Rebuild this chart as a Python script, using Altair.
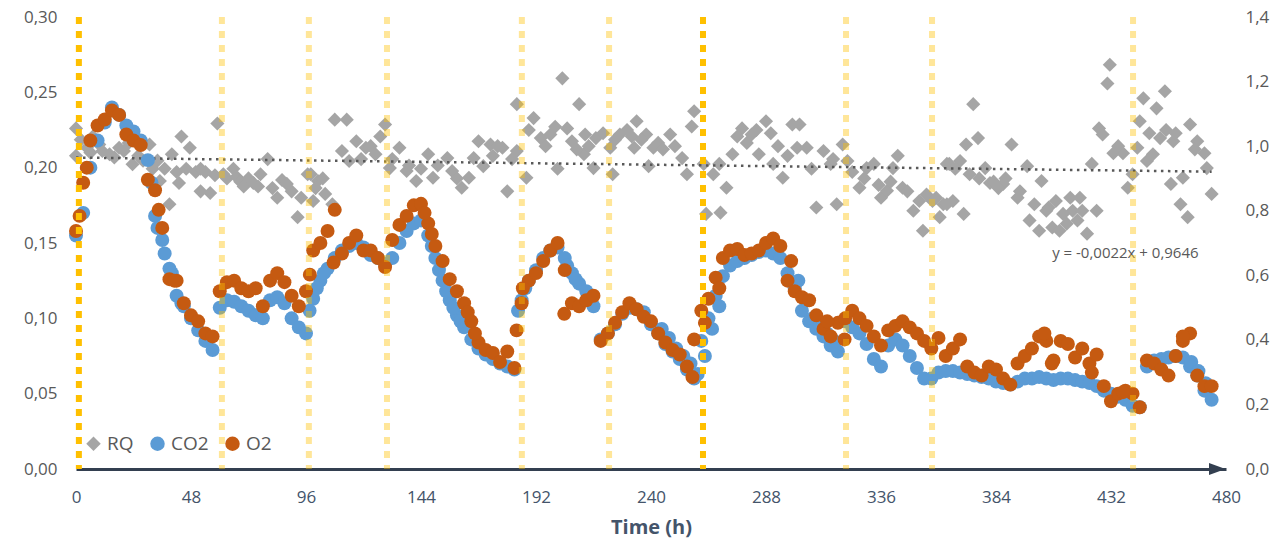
import altair as alt
import pandas as pd

# ---------------- data ----------------
sample_hours = [0,3,6,9,12,15,18,21,24,27,30,33,36,39,42,45,48,51,54,57,
                60,63,66,69,72,75,78,81,84,87,90,93,96,99,102,105,108,111,114,117,
                120,123,126,129,132,135,138,141,144,147,150,153,156,159,162,165,168,171,174,177,
                180,183,186,189,192,195,198,201,204,207,210,213,216,219,222,225,228,231,234,237,
                240,243,246,249,252,255,258,261,264,267,270,273,276,279,282,285,288,291,294,297,
                300,303,306,309,312,315,318,321,324,327,330,333,336,339,342,345,348,351,354,357,
                360,363,366,369,372,375,378,381,384,387,390,393,396,399,402,405,408,411,414,417,
                420,423,426,429,432,435,438,441,444,447,450,453,456,459,462,465,468,471,474]

co2_values = [0.155,0.17,0.2,0.218,0.23,0.24,0.235,0.228,0.224,0.218,
              0.205,0.168,0.152,0.133,0.115,0.108,0.1,0.092,0.085,0.079,
              0.107,0.112,0.111,0.108,0.105,0.102,0.1,0.112,0.114,0.11,
              0.1,0.094,0.09,0.113,0.125,0.133,0.14,0.145,0.148,0.15,
              0.147,0.142,0.14,0.136,0.14,0.15,0.158,0.163,0.165,0.155,
              0.14,0.125,0.112,0.102,0.094,0.086,0.08,0.076,0.073,0.07,
              0.068,0.066,0.112,0.125,0.132,0.14,0.145,0.147,0.14,0.13,
              0.123,0.118,0.108,0.086,0.09,0.096,0.103,0.107,0.106,0.104,
              0.096,0.09,0.083,0.078,0.073,0.066,0.06,0.085,0.1,
              0.115,0.128,0.135,0.138,0.14,0.142,0.144,0.145,0.143,0.14,
              0.13,0.12,0.105,0.098,0.093,0.088,0.082,0.078,0.098,0.094,
              0.09,0.083,0.073,0.068,0.082,0.086,0.082,0.075,0.067,0.06,
              0.06,0.064,0.065,0.065,0.064,0.063,0.062,0.061,0.06,0.058,
              0.057,0.056,0.058,0.06,0.06,0.061,0.06,0.059,0.06,0.06,
              0.059,0.058,0.057,0.055,0.052,0.05,0.048,0.046,0.042,0.041,
              0.068,0.072,0.073,0.074,0.075,0.074,0.068,0.062,0.052,0.046]

co2_extra_hours = [31.5, 34, 37, 40, 44, 97.5, 100.5, 103.5, 148.5, 151.5, 154.5, 157.5, 160.5,
                   184.5, 187.5, 205, 208.5, 244.5, 247.5, 250.5, 253.5, 256.5, 259.5,
                   262.5, 265.5, 268.5, 301.5, 304.5, 307.5, 310.5, 313.5, 316.5,
                   465.5, 468.5, 471.5]
co2_extra_values = [0.19, 0.16, 0.143, 0.13, 0.11, 0.105, 0.12, 0.13, 0.148, 0.132, 0.118, 0.107, 0.098,
                    0.105, 0.12, 0.135, 0.126, 0.093, 0.087, 0.08, 0.075, 0.07, 0.063,
                    0.075, 0.093, 0.108, 0.125, 0.112, 0.1, 0.095, 0.09, 0.085,
                    0.071, 0.065, 0.057]

o2_values = [0.158,0.19,0.218,0.228,0.232,0.238,0.235,0.222,0.218,0.215,
             0.192,0.185,0.16,0.126,0.125,0.11,0.102,0.098,0.09,0.088,
             0.118,0.124,0.125,0.12,0.118,0.12,0.108,0.125,0.13,0.124,
             0.115,0.108,0.118,0.145,0.15,0.158,0.172,0.143,0.15,0.155,
             0.145,0.145,0.14,0.134,0.152,0.162,0.168,0.175,0.176,0.163,
             0.148,0.138,0.126,0.118,0.11,0.098,0.084,0.079,0.077,0.071,
             0.078,0.067,0.11,0.125,0.13,0.138,0.145,0.15,0.132,0.11,
             0.108,0.112,0.115,0.085,0.09,0.097,0.104,0.11,0.106,0.101,
             0.098,0.09,0.084,0.079,0.076,0.068,0.086,0.105,0.113,
             0.127,0.14,0.145,0.146,0.142,0.143,0.145,0.15,0.153,0.148,
             0.125,0.118,0.114,0.112,0.102,0.093,0.088,0.097,0.1,0.105,
             0.1,0.095,0.088,0.082,0.092,0.095,0.098,0.094,0.09,0.085,
             0.08,0.087,0.075,0.08,0.086,0.068,0.064,0.062,0.068,0.066,
             0.06,0.056,0.07,0.075,0.08,0.088,0.085,0.072,0.085,0.083,
             0.074,0.08,0.07,0.076,0.055,0.045,0.05,0.052,0.05,0.041,
             0.072,0.07,0.066,0.062,0.075,0.085,0.09,0.062,0.055,0.055]

o2_extra_hours = [1.5, 4.5, 34.5, 41, 97.6, 107.5, 145.5, 148.5, 163.5, 166.5, 183.9, 186.5, 203.8,
                  257.3, 262.5, 268.5, 298.5, 313.5, 320.8, 404.2, 407.3, 424, 437, 462]
o2_extra_values = [0.168, 0.2, 0.172, 0.125, 0.129, 0.137, 0.17, 0.156, 0.104, 0.09, 0.092, 0.12, 0.103,
                   0.061, 0.097, 0.12, 0.138, 0.098, 0.086, 0.09, 0.07, 0.064, 0.051, 0.088]

rq_hours = [0,0,2,4.6,6,7,9.7,11,14,16,18,20,22,23.6,26,28,30.7,32,34,35,37,39,40,42,43,44,46,47.5,50,52,52,54,56,58,59,
            61.5,63,65.7,67,68.6,70,72,74,76,77,80,82,84,86,88,90,92.5,94,96.7,99,
            98,101,104,107,108,113,111,114,117,121,127,129,125,131,135,138,142,147,149,155,157,161,164,166,168,173,170,178,180,
            184,184,188,191,194,198,203,210,205,201,207,212,212.5,216,217,223,224,227,233,234,
            100,103,119,123,132,139,144,151,159,174,176,182,189,196,200,209,214,220,225,230,232,
            238,241,239,248,253,255,258,257,262,263,269,266,268.5,271.5,274,278,282,288,285,291,295,299,302,301,305,
            309,312,315,317.5,320,322,327,330,333,336,338.5,343,341,345,349.5,352,353.5,357.5,360.5,364.5,366,
            236,243,245,250,276,280,284,290,293,297,307,316,324,329,335,340,347,355,359,362,
            363.5,369,371.5,373,374.5,376.5,379.5,381.5,363.5,370.5,387,390.5,393,397,398,402,403,406,407.5,409,410.5,413.5,
            416,419,422,424,426,427,428.5,431.5,430.5,433,437,439,441,443,445.5,444,447,449.5,448,451,452.5,454.5,457,458,
            461,462,464,465,468,471,472,474,
            367,377,383,385,388,394,400,405,412,415,418,420,435,455,459,467]
rq_values = [1.055,0.97,1.02,0.995,0.98,1.03,1.005,0.985,0.975,0.965,0.995,0.985,1.01,0.944,0.97,0.955,1.005,0.93,0.955,0.892,0.93,0.82,0.975,0.92,0.886,1.03,0.93,0.995,0.92,0.93,0.86,0.92,0.855,0.91,1.07,
             0.913,0.9,0.93,0.905,0.89,0.875,0.9,0.886,0.875,0.913,0.96,0.87,0.84,0.895,0.883,0.86,0.78,0.84,0.913,0.83,
             0.913,0.892,0.852,0.82,1.082,1.082,0.985,0.954,1.015,0.995,1.03,1.067,0.975,0.932,0.995,0.923,0.892,0.975,0.902,0.963,0.923,0.871,0.902,0.963,1.015,1.005,0.938,0.995,0.86,
             1.13,0.985,0.902,1.087,1.025,1.036,1.21,1.13,1.055,0.93,1.015,0.975,1.036,0.932,1.025,0.995,0.913,1.036,0.995,1.077,
             0.87,0.9,0.96,1.0,0.96,0.94,0.93,0.94,0.9,0.97,1.0,0.96,1.05,1.0,1.06,0.99,1.0,1.04,1.02,1.05,1.03,
             1.036,0.995,0.938,1.036,0.963,0.913,1.108,1.061,0.945,0.79,0.794,0.913,0.945,0.871,0.975,1.055,1.036,1.077,0.975,0.945,0.902,1.067,1.067,0.995,0.995,
             0.81,0.985,0.945,0.82,1.005,0.954,0.871,0.932,0.945,0.84,0.862,0.97,0.932,0.871,0.80,0.83,0.738,0.83,0.78,0.945,0.83,
             1.02,1.01,0.99,1.0,1.03,1.01,1.05,1.04,1.0,0.97,0.93,0.96,0.92,0.9,0.88,0.89,0.86,0.85,0.84,0.82,
             0.945,0.954,1.005,0.913,1.13,1.025,0.932,0.886,0.82,0.79,0.883,1.005,0.84,0.938,0.77,0.738,0.892,0.81,0.748,0.83,0.738,0.76,
             0.80,0.84,0.729,0.945,0.80,1.055,1.036,1.252,1.194,0.978,0.978,0.871,0.913,0.995,1.148,1.077,0.954,0.975,1.04,1.117,1.025,1.17,0.883,1.015,
             0.82,0.902,0.78,1.067,1.015,0.978,0.932,0.852,
             0.93,0.9,0.89,0.87,0.9,0.86,0.82,0.8,0.79,0.84,0.77,0.8,1.0,1.05,1.04,0.99]

trend_hours = [0, 474]
trend_values = [0.9646, 0.921]

event_hours_major = [1.2, 261.7]
event_hours_minor = [60.9, 97.2, 129.8, 186.1, 222.5, 321.4, 357.3, 441.2]

equation_label = ["y = -0,0022x + 0,9646"]
equation_hour = [438]
equation_rq = [0.67]

x_ticks = [0, 48, 96, 144, 192, 240, 288, 336, 384, 432, 480]
left_ticks = [0, 0.05, 0.10, 0.15, 0.20, 0.25, 0.30]
right_ticks = [0, 0.2, 0.4, 0.6, 0.8, 1.0, 1.2, 1.4]

series_names = ["RQ", "CO2", "O2"]
series_colors = ["#A5A5A5", "#5B9BD5", "#C55A11"]
series_shapes = ["diamond", "circle", "circle"]

# ---------------- tables ----------------
rq_df = pd.DataFrame({"h": rq_hours, "v": rq_values, "series": "RQ"})
co2_df = pd.DataFrame({"h": sample_hours + co2_extra_hours, "v": co2_values + co2_extra_values, "series": "CO2"})
o2_df = pd.DataFrame({"h": sample_hours + o2_extra_hours, "v": o2_values + o2_extra_values, "series": "O2"})
trend_df = pd.DataFrame({"h": trend_hours, "v": trend_values})
eq_df = pd.DataFrame({"h": equation_hour, "v": equation_rq, "t": equation_label})
major_df = pd.DataFrame({"h": event_hours_major})
minor_df = pd.DataFrame({"h": event_hours_minor})
arrow_df = pd.DataFrame({"h": [480], "v": [0]})

FONT = "Open Sans"
x_scale = alt.Scale(domain=[0, 480], nice=False, zero=False)
color_scale = alt.Scale(domain=series_names, range=series_colors)
shape_scale = alt.Scale(domain=series_names, range=series_shapes)

x_axis = alt.Axis(values=x_ticks, title="Time (h)", grid=False, ticks=False, labelFlush=False,
                  domainColor="#333F50", domainWidth=3, labelColor="#44546A",
                  labelFontSize=17, labelFont=FONT, labelPadding=20,
                  titleFontSize=20, titleFont=FONT, titleFontWeight="bold",
                  titleColor="#44546A", titlePadding=12)
X = alt.X("h:Q", scale=x_scale, axis=x_axis)

legend = alt.Legend(orient="none", legendX=8, legendY=417, direction="horizontal",
                    title=None, labelFontSize=19, labelFont=FONT, labelColor="#595959",
                    symbolSize=210, columnPadding=14, labelOffset=4,
                    symbolStrokeWidth=0, symbolOpacity=1)
C = alt.Color("series:N", scale=color_scale, legend=legend)
S = alt.Shape("series:N", scale=shape_scale, legend=legend)

right_axis = alt.Axis(orient="right", values=right_ticks, grid=False, ticks=False, domain=False,
                      labelFlush=False,
                      labelExpr="replace(format(datum.value, '.1f'), '.', ',')",
                      labelColor="#595959", labelFontSize=17, labelFont=FONT,
                      labelPadding=19, title=None)
RY = alt.Y("v:Q", scale=alt.Scale(domain=[0, 1.4], nice=False), axis=right_axis)

left_axis = alt.Axis(orient="left", values=left_ticks, grid=False, ticks=False, domain=False,
                     labelFlush=False,
                     labelExpr="replace(format(datum.value, '.2f'), '.', ',')",
                     labelColor="#595959", labelFontSize=17, labelFont=FONT,
                     labelPadding=19, title=None)
LY = alt.Y("v:Q", scale=alt.Scale(domain=[0, 0.30], nice=False), axis=left_axis)

# right axis group (RQ)
rq_points = alt.Chart(rq_df).mark_point(filled=True, size=200, opacity=1, strokeWidth=0).encode(
    x=X, y=RY, color=C, shape=S)
trend = alt.Chart(trend_df).mark_line(color="#595959", strokeWidth=2.5, strokeDash=[2.5, 4.5]).encode(
    x=X, y=RY)
eq_text = alt.Chart(eq_df).mark_text(fontSize=15, font=FONT, color="#595959").encode(
    x=X, y=RY, text="t:N")
right_group = alt.layer(rq_points, trend, eq_text)

# left axis group (CO2, O2)
co2_points = alt.Chart(co2_df).mark_point(filled=True, size=195, opacity=1, strokeWidth=0).encode(
    x=X, y=LY, color=C, shape=S)
o2_points = alt.Chart(o2_df).mark_point(filled=True, size=195, opacity=1, strokeWidth=0).encode(
    x=X, y=LY, color=C, shape=S)
minor_rules = alt.Chart(minor_df).mark_rule(color="#FFC000", opacity=0.4, strokeWidth=6,
                                            strokeDash=[7, 7]).encode(x=X)
major_rules = alt.Chart(major_df).mark_rule(color="#FFC000", strokeWidth=6,
                                            strokeDash=[7, 7]).encode(x=X)
arrow = alt.Chart(arrow_df).mark_point(
    shape="M-1.2,-0.8L1,0L-1.2,0.8Z", filled=True, size=225, color="#333F50",
    opacity=1, strokeWidth=0, xOffset=-8).encode(x=X, y=LY)
left_group = alt.layer(co2_points, o2_points, minor_rules, major_rules, arrow)

chart = alt.layer(right_group, left_group).resolve_scale(y="independent").properties(
    width=1150, height=452,
    autosize=alt.AutoSizeParams(type="none"),
    padding={"left": 76, "top": 17, "right": 52, "bottom": 79},
    background="white",
).configure_view(strokeWidth=0)

chart.save("out.html", embed_options={"renderer": "svg", "actions": False})
